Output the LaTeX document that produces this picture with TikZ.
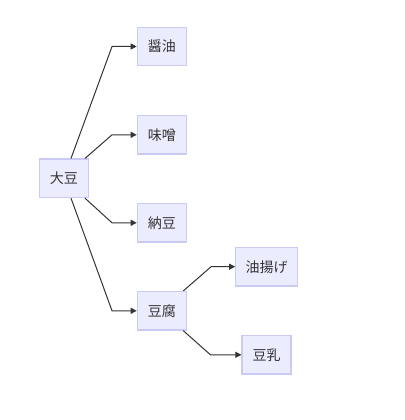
\documentclass[tikz,border=0pt]{standalone}
\usepackage{fontspec}
\setmainfont{Noto Sans CJK JP}
\usetikzlibrary{arrows.meta}
\definecolor{boxfill}{HTML}{ECECFF}
\definecolor{boxline}{HTML}{CACAF4}
\definecolor{ink}{HTML}{333333}
\tikzset{
  box/.style={draw=boxline, fill=boxfill, line width=0.9pt, inner sep=0pt,
    minimum width=36.75pt, minimum height=28.9pt, text=ink,
    font=\fontsize{10.5pt}{12pt}\selectfont},
  wbox/.style={box, minimum width=46.2pt},
  arr/.style={draw=ink, line width=0.75pt, -{Triangle[length=4.5pt,width=4.5pt]}}
}
\begin{document}
\begin{tikzpicture}[x=0.75pt,y=-0.75pt]
\useasboundingbox (0,0) rectangle (404,420);
\node[box] (dz) at (63.8,178.3) {大豆};
\node[box] (sy) at (161.8,46.5) {醤油};
\node[box] (ms) at (161.8,134.8) {味噌};
\node[box] (nt) at (161.8,222.8) {納豆};
\node[box] (tf) at (161.8,310.8) {豆腐};
\node[wbox] (ab) at (266.5,266.7) {油揚げ};
\node[box] (tn) at (266.5,354.8) {豆乳};
\draw[arr] ([xshift=5.4pt]dz.north) -- ([xshift=-18.5pt]sy.west) -- (sy.west);
\draw[arr] ([xshift=15.9pt]dz.north) -- ([xshift=-18.5pt]ms.west) -- (ms.west);
\draw[arr] ([xshift=15.9pt]dz.south) -- ([xshift=-18.5pt]nt.west) -- (nt.west);
\draw[arr] ([xshift=5.4pt]dz.south) -- ([xshift=-18.5pt]tf.west) -- (tf.west);
\draw[arr] ([xshift=16.1pt]tf.north) -- ([xshift=-18pt]ab.west) -- (ab.west);
\draw[arr] ([xshift=16.1pt]tf.south) -- ([xshift=-23.2pt]tn.west) -- (tn.west);
\end{tikzpicture}
\end{document}
